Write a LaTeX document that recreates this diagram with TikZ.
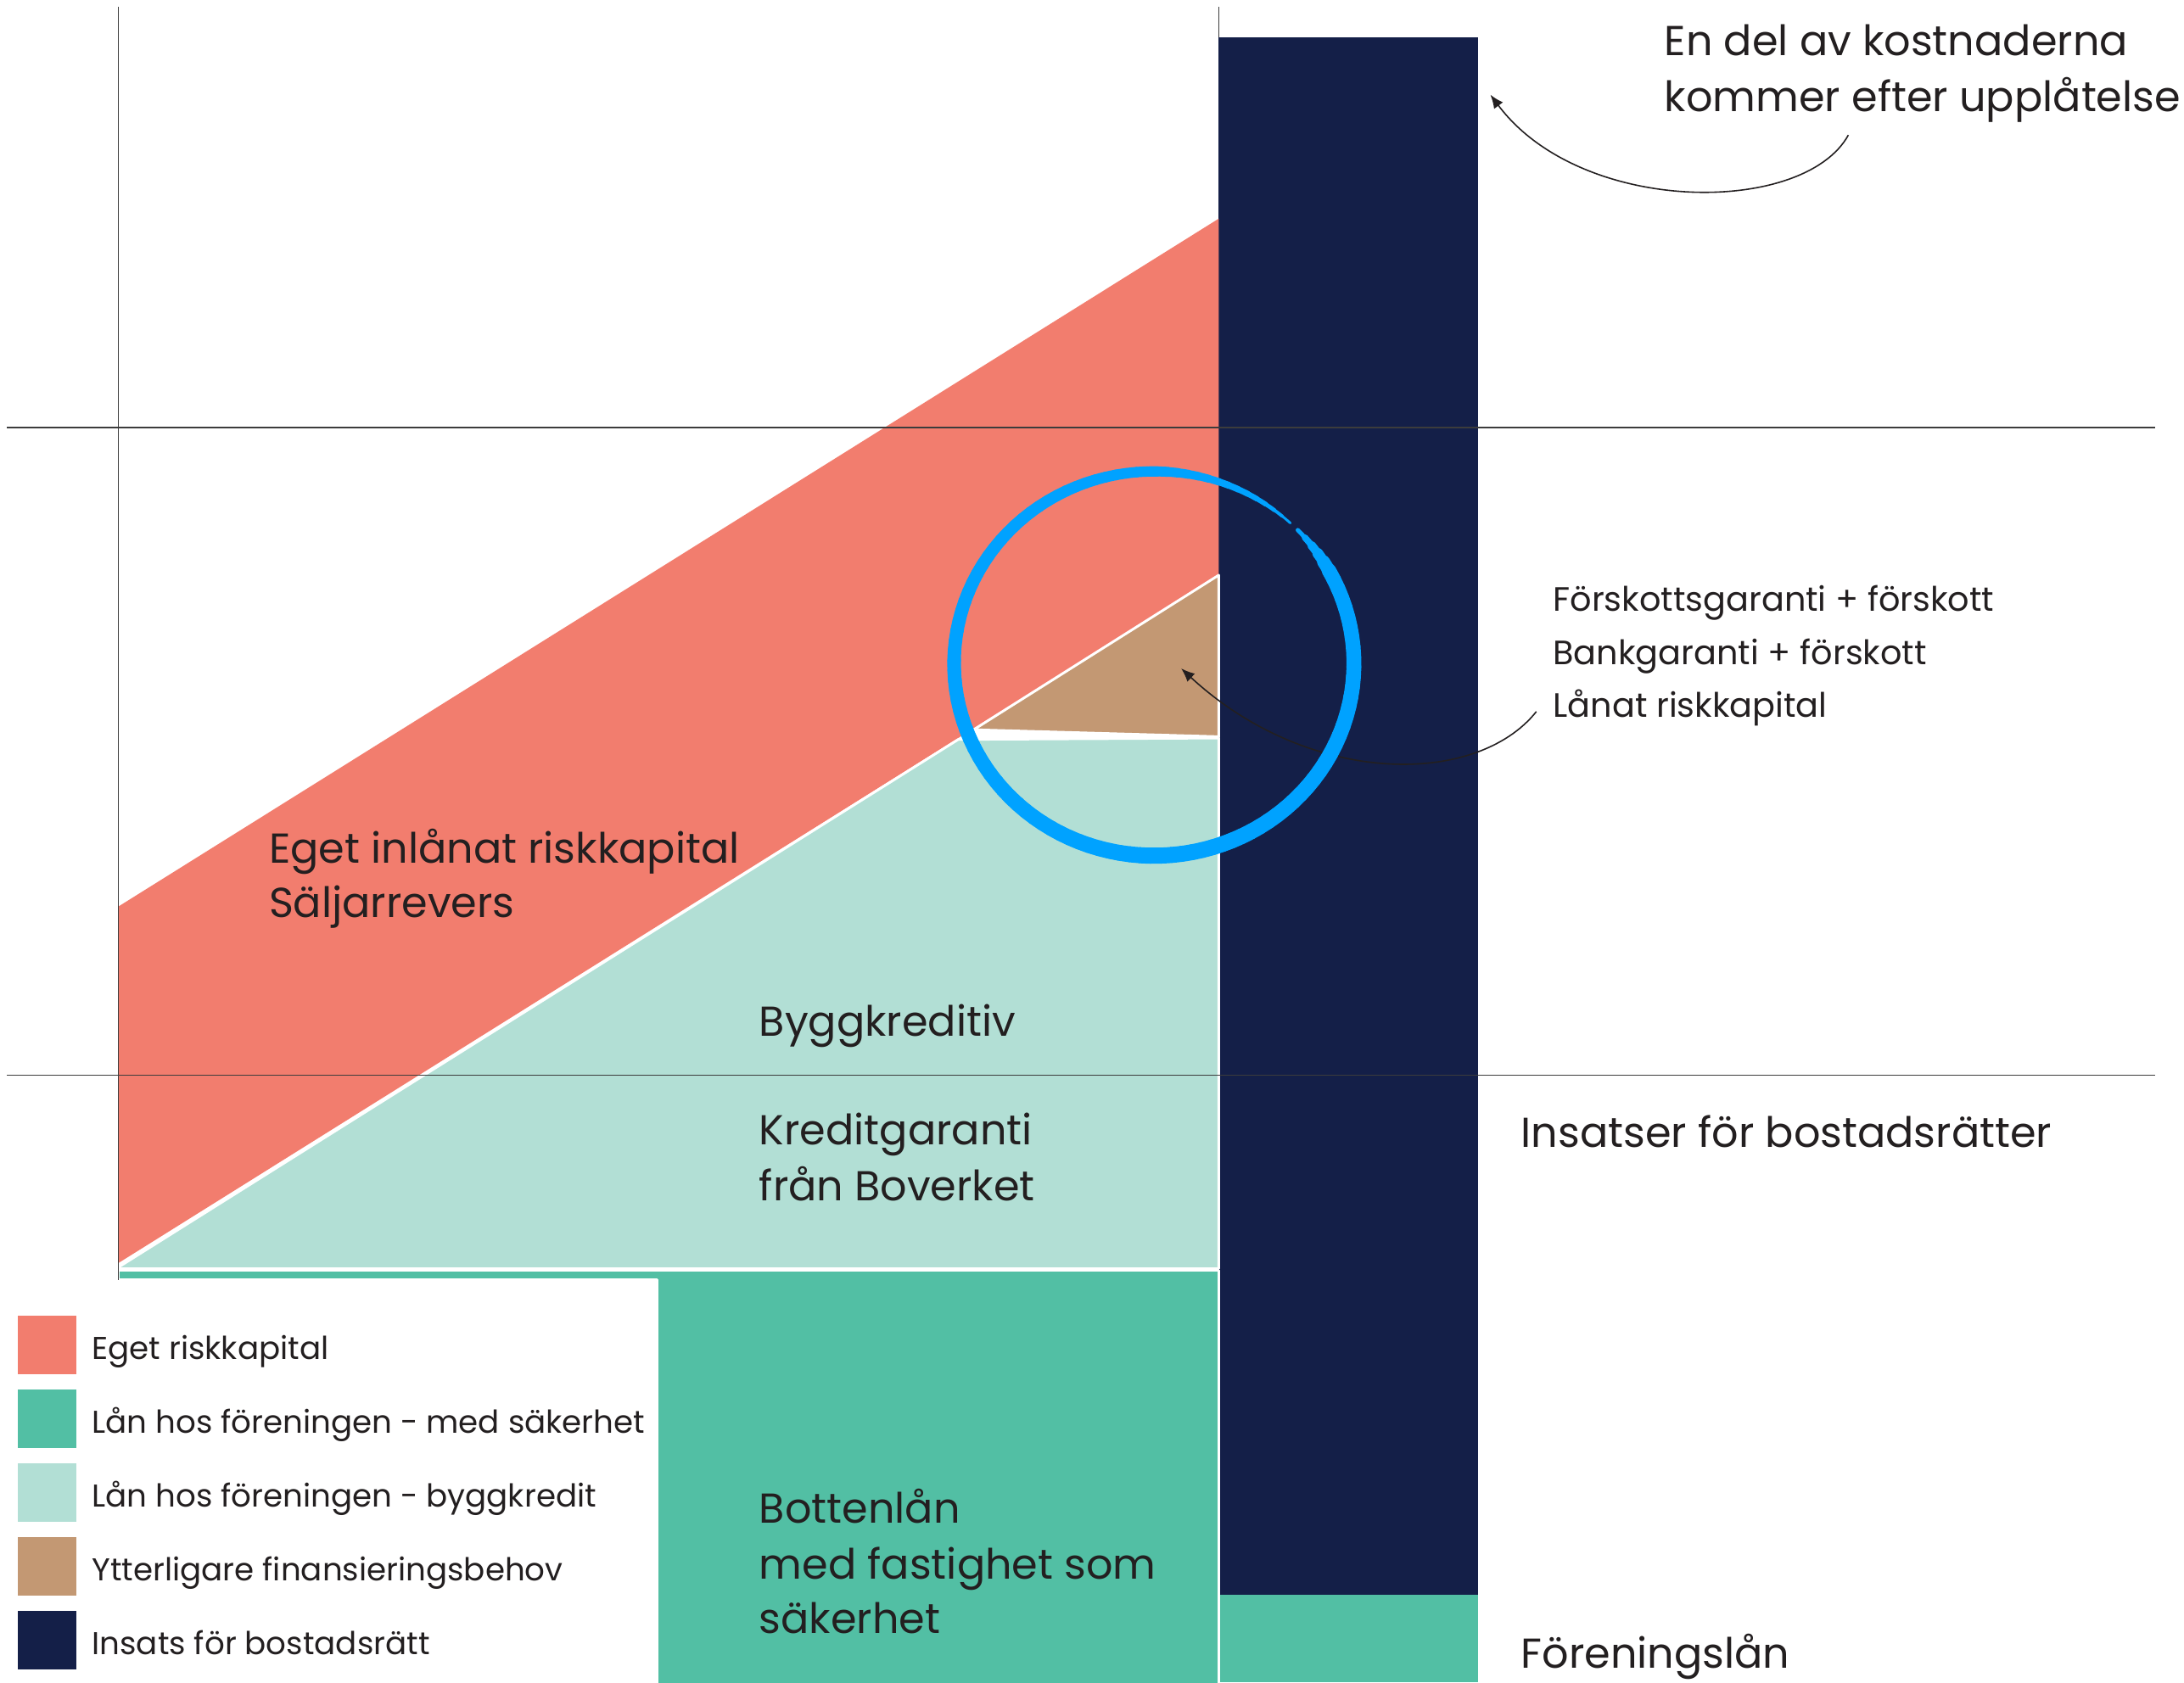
\documentclass[tikz,border=0pt]{standalone}
\usepackage{fontspec}
\setmainfont{Poppins}
\usetikzlibrary{arrows.meta}
\definecolor{salmon}{HTML}{F27D6E}
\definecolor{sea}{HTML}{52BFA4}
\definecolor{mint}{HTML}{B2DFD5}
\definecolor{cbrown}{HTML}{C39873}
\definecolor{navy}{HTML}{141F48}
\definecolor{ink}{HTML}{231F20}
\definecolor{ringblue}{HTML}{00A2FF}
\definecolor{rulegray}{HTML}{3C3C3C}
\newcommand{\bigtxt}{\fontsize{49.3}{59}\selectfont}
\newcommand{\smalltxt}{\fontsize{39.8}{47}\selectfont}
\newcommand{\legtxt}{\fontsize{37.2}{45}\selectfont}
\tikzset{
  big/.style={anchor=base west, inner sep=0pt, text=ink, font=\bigtxt},
  small/.style={anchor=base west, inner sep=0pt, text=ink, font=\smalltxt},
  legtext/.style={anchor=base west, inner sep=0pt, text=ink, font=\legtxt},
  legbox/.style={draw=none, minimum size=68.9pt, inner sep=0pt},
  gridline/.style={draw=rulegray, line width=1.6pt},
  whiteedge/.style={draw=white, line width=3pt, line join=round},
  conn/.style={draw=ink, line width=1.6pt, -{Latex[length=16pt,width=13pt]}},
  ring/.style={draw=ringblue, line cap=round}
}
\begin{document}
\begin{tikzpicture}[x=1.6416pt,y=-1.6416pt]
\useasboundingbox (0,0) rectangle (1568,1208);
\fill[white] (0,0) rectangle (1568,1208);

% middle vertical line (behind shapes)
\draw[gridline] (875,5) -- (875,1208);

% navy column and green foot
\fill[navy] (875,27) rectangle (1061,1145);
\fill[sea] (875,1145) rectangle (1061,1208);

% red band
\fill[salmon] (85,651) -- (875,157) -- (875,413) -- (85,907) -- cycle;
% light teal
\filldraw[fill=mint, whiteedge] (85,910) -- (688,531) -- (875,530) -- (875,911) -- (85,911) -- cycle;
% brown triangle
\filldraw[fill=cbrown, whiteedge] (699,524) -- (875,413) -- (875,529) -- cycle;
% green block
\filldraw[fill=sea, whiteedge] (85,912.5) -- (875,912.5) -- (875,1210) -- (472,1210) -- (472,919) -- (85,919) -- cycle;
\fill[sea] (86,913.5) rectangle (874,918);
\fill[sea] (473,913.5) rectangle (874,1210);

% grid lines on top
\draw[gridline] (85,5) -- (85,919);
\draw[gridline] (5,307) -- (1547,307);
\draw[gridline] (5,772) -- (1547,772);

% texts
\node[big] (t1) at (1195,40) {En del av kostnaderna};
\node[big] (t2) at (1195,80) {kommer efter upplåtelse};
\node[small] (t3) at (1115,439) {Förskottsgaranti + förskott};
\node[small] (t4) at (1115,477) {Bankgaranti + förskott};
\node[small] (t5) at (1115,515) {Lånat riskkapital};
\node[big] (t6) at (193,620) {Eget inlånat riskkapital};
\node[big] (t7) at (193,659) {Säljarrevers};
\node[big] (t8) at (545,744) {Byggkreditiv};
\node[big] (t9) at (545,822) {Kreditgaranti};
\node[big] (t10) at (545,862) {från Boverket};
\node[big] (t11) at (1092,824) {Insatser för bostadsrätter};
\node[big] (t12) at (545,1094) {Bottenlån};
\node[big] (t13) at (545,1134) {med fastighet som};
\node[big] (t14) at (545,1173) {säkerhet};
\node[big] (t15) at (1092,1198) {Föreningslån};

% legend
\node[legbox, fill=salmon] (l1) at (34,966) {};
\node[legbox, fill=sea] (l2) at (34,1019) {};
\node[legbox, fill=mint] (l3) at (34,1072) {};
\node[legbox, fill=cbrown] (l4) at (34,1125) {};
\node[legbox, fill=navy] (l5) at (34,1178) {};
\node[legtext] (l1t) at (66,976) {Eget riskkapital};
\node[legtext] (l2t) at (66,1029) {Lån hos föreningen - med säkerhet};
\node[legtext] (l3t) at (66,1082) {Lån hos föreningen - byggkredit};
\node[legtext] (l4t) at (66,1135) {Ytterligare finansieringsbehov};
\node[legtext] (l5t) at (66,1188) {Insats för bostadsrätt};

% connectors
\coordinate (c1s) at (1327,97);
\coordinate (c1e) at (1070,68);
\draw[conn] (c1s) .. controls (1295,155) and (1135,155) .. (c1e);
\coordinate (c2s) at (1103,511);
\coordinate (c2e) at (848,480);
\draw[conn] (c2s) .. controls (1060,565) and (940,565) .. (c2e);

% hand-drawn ring with tapering stroke
\coordinate (ec) at (828.5,476.5);
\foreach \a in {44,41,...,-310}{
  \pgfmathsetmacro{\w}{(\a>30) ? (5+12*(44-\a)/14) : ((\a>-90) ? (17+2*(30-\a)/120) : ((\a>-180) ? (19-3*(-90-\a)/90) : ((\a>-270) ? (16-4*(-180-\a)/90) : ((\a>-300) ? (12-6*(-270-\a)/30) : (6-4*(-300-\a)/13)))))}
  \pgfmathsetmacro{\b}{\a-3}
  \draw[ring, line width=\w pt] ([shift={(\a:235.6pt and 226.5pt)}]ec) arc[start angle=\a, end angle=\b, x radius=235.6pt, y radius=226.5pt];
}
\end{tikzpicture}
\end{document}
